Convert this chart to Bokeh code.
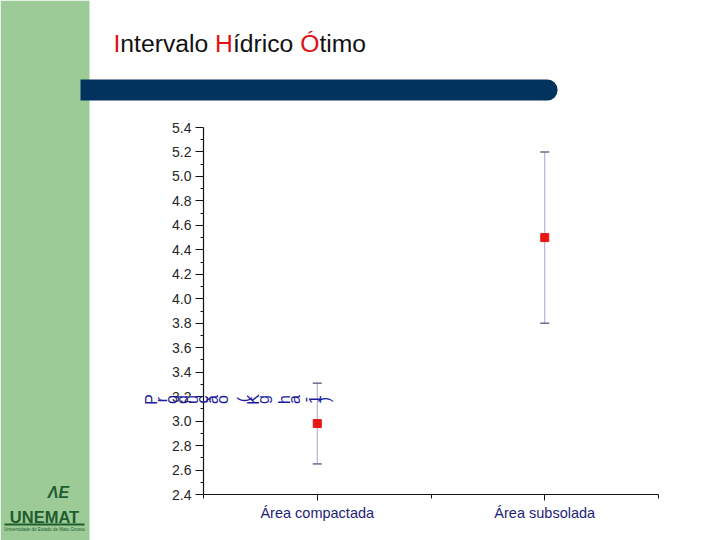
import math
from bokeh.plotting import figure
from bokeh.models import (Range1d, FixedTicker, BoxAnnotation, Label, LabelSet, LinearAxis,
                          ColumnDataSource, Whisker, TeeHead, PrintfTickFormatter)
from bokeh.core.properties import value
from bokeh.embed import file_html
from bokeh.resources import INLINE

# ---------------- data ----------------
categories = ["Área compactada", "Área subsolada"]
cat_pos = [1, 2]
means = [2.98, 4.50]
upper = [3.31, 5.20]
lower = [2.65, 3.80]

y_ticks = [2.4, 2.6, 2.8, 3.0, 3.2, 3.4, 3.6, 3.8, 4.0, 4.2, 4.4, 4.6, 4.8, 5.0, 5.2, 5.4]
y_minor = [2.5, 2.7, 2.9, 3.1, 3.3, 3.5, 3.7, 3.9, 4.1, 4.3, 4.5, 4.7, 4.9, 5.1, 5.3]
x_minor = [0.5, 1.5, 2.5]

title_parts = ["I", "ntervalo ", "H", "ídrico ", "Ó", "timo"]
title_colors = ["#dd1111", "#111111", "#dd1111", "#111111", "#dd1111", "#111111"]

y_label_text = "Produção (Kg ha-1)"

# ---------------- layout geometry (canvas pixels) ----------------
W, H = 720, 540
AX_L, AX_R, AX_T, AX_B = 203, 658, 127, 494      # plot area on the slide
X0, X1 = 0.5, 2.5
Y0, Y1 = 2.4, 5.4
sx = (AX_R - AX_L) / (X1 - X0)
sy = (AX_B - AX_T) / (Y1 - Y0)
x_range = Range1d(X0 - AX_L / sx, X1 + (W - AX_R) / sx)
y_range = Range1d(Y0 - (H - AX_B) / sy, Y1 + AX_T / sy)

p = figure(width=W, height=H, output_backend="svg", toolbar_location=None,
           x_range=x_range, y_range=y_range,
           x_axis_location=None, y_axis_location=None,
           min_border=0, background_fill_color="white", border_fill_color="white")
p.outline_line_color = None
p.grid.visible = False

# canvas-pixel helper ranges (slide decorations)
p.extra_x_ranges = {"px": Range1d(0, W)}
p.extra_y_ranges = {"py": Range1d(H, 0)}

# ---------------- slide decorations ----------------
p.add_layout(BoxAnnotation(left=0, right=89, top=0, bottom=H, x_range_name="px", y_range_name="py",
                           fill_color="#9ccb98", fill_alpha=1.0, line_color=None, level="underlay"))
p.add_layout(BoxAnnotation(left=80, right=557, top=79, bottom=100, x_range_name="px", y_range_name="py",
                           fill_color="#02335f", fill_alpha=1.0, line_color=None, level="underlay",
                           border_radius=(0, 10, 10, 0)))

# title with red initials (Arial / Liberation Sans advance widths, per 1000 em)
ADV = {"I": 278, "H": 722, "Ó": 778, "n": 556, "t": 278, "e": 556, "r": 333, "v": 500,
       "a": 556, "l": 222, "o": 556, " ": 278, "í": 278, "d": 556, "i": 222, "c": 500, "m": 833}
TITLE_SIZE = 24.7
tx = 113.0
for txt, col in zip(title_parts, title_colors):
    p.add_layout(Label(x=tx, y=42.5, x_range_name="px", y_range_name="py", text=txt,
                       text_font="Liberation Sans", text_font_size=f"{TITLE_SIZE}px", text_color=col,
                       text_align="left", text_baseline="middle"))
    tx += sum(ADV[c] for c in txt) * TITLE_SIZE / 1000.0

# logo
p.add_layout(Label(x=58, y=492, x_range_name="px", y_range_name="py", text="ΛE",
                   text_font="Liberation Sans", text_font_style="bold italic", text_font_size="16px",
                   text_color="#1f5c2e", text_align="center", text_baseline="middle"))
p.add_layout(Label(x=44, y=516, x_range_name="px", y_range_name="py", text="UNEMAT",
                   text_font="Liberation Sans", text_font_style="bold", text_font_size="16.5px",
                   text_color="#1f5c2e", text_align="center", text_baseline="middle"))
p.add_layout(BoxAnnotation(left=4, right=84, top=523, bottom=525, x_range_name="px", y_range_name="py",
                           fill_color="#1f5c2e", fill_alpha=1.0, line_color=None))
p.add_layout(Label(x=44, y=529, x_range_name="px", y_range_name="py",
                   text="Universidade do Estado de Mato Grosso",
                   text_font="Liberation Sans", text_font_size="4.5px",
                   text_color="#1f5c2e", text_align="center", text_baseline="middle"))

# mis-rendered y-axis label: each glyph rotated, laid out horizontally
chars = list(y_label_text)
step = 10.2
cx = [151 + i * step for i in range(len(chars))]
lab_src = ColumnDataSource(dict(ch=chars, x=cx, y=[399] * len(chars)))
p.add_layout(LabelSet(x="x", y="y", text="ch", source=lab_src, angle=math.pi / 2,
                      x_range_name="px", y_range_name="py",
                      text_align="center", text_baseline="middle",
                      text_font=value("Liberation Sans"), text_font_size=value("16px"),
                      text_color="#1c1ca0"))

# ---------------- axes ----------------
xa = LinearAxis(fixed_location=Y0, bounds=(X0, X1),
                ticker=FixedTicker(ticks=cat_pos, minor_ticks=x_minor))
xa.major_label_overrides = {pos: name for pos, name in zip(cat_pos, categories)}
xa.axis_line_color = "#111111"
xa.axis_line_width = 1.2
xa.major_tick_in = 0
xa.major_tick_out = 6
xa.minor_tick_in = 0
xa.minor_tick_out = 4
xa.major_tick_line_color = "#111111"
xa.minor_tick_line_color = "#111111"
xa.major_label_standoff = 4
xa.major_label_text_font = "Liberation Sans"
xa.major_label_text_font_size = "14.5px"
xa.major_label_text_color = "#1e1e78"
p.add_layout(xa, "below")

ya = LinearAxis(fixed_location=X0, bounds=(Y0, Y1),
                ticker=FixedTicker(ticks=y_ticks, minor_ticks=y_minor),
                formatter=PrintfTickFormatter(format="%.1f"))
ya.axis_line_color = "#111111"
ya.axis_line_width = 1.2
ya.major_tick_in = 0
ya.major_tick_out = 8
ya.minor_tick_in = 0
ya.minor_tick_out = 3
ya.major_tick_line_color = "#111111"
ya.minor_tick_line_color = "#111111"
ya.major_label_standoff = 4
ya.major_label_text_font = "Liberation Sans"
ya.major_label_text_font_size = "14px"
ya.major_label_text_color = "#262626"
p.add_layout(ya, "left")

# ---------------- data marks ----------------
src = ColumnDataSource(dict(x=cat_pos, mean=means, upper=upper, lower=lower))
w = Whisker(base="x", upper="upper", lower="lower", source=src, dimension="height",
            line_color="#a5a5d8", line_width=1, level="underlay",
            upper_head=TeeHead(size=9, line_color="#6a6a92", line_width=1.5),
            lower_head=TeeHead(size=9, line_color="#6a6a92", line_width=1.5))
p.add_layout(w)
p.scatter("x", "mean", source=src, marker="square", size=8, color="#e81515")

open("out.html", "w").write(file_html(p, INLINE))
